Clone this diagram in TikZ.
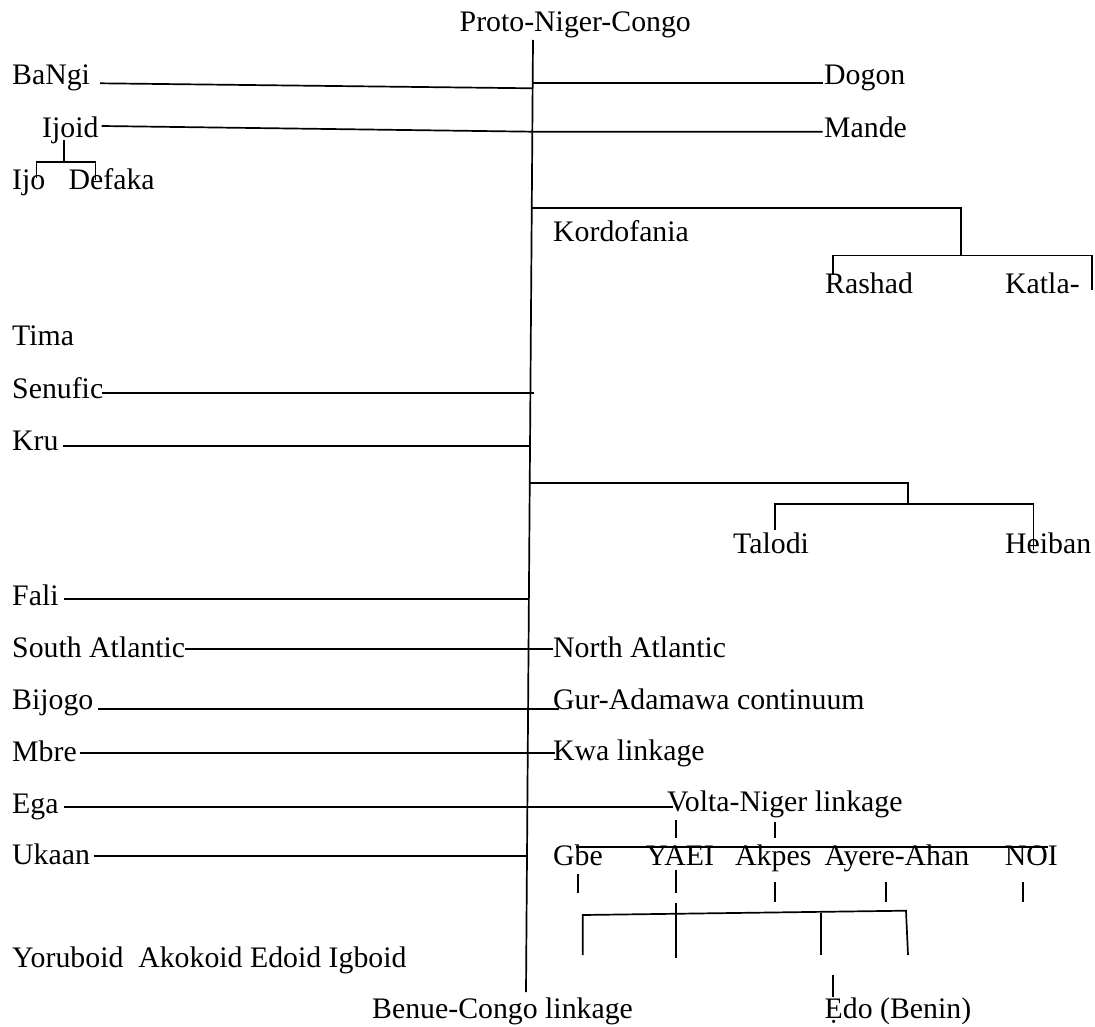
\documentclass[tikz,border=0pt]{standalone}
\usepackage{fontspec}
\setmainfont{Liberation Serif}
\begin{document}
\begin{tikzpicture}[x=1pt, y=-1pt,
  lbl/.style={anchor=base west, inner sep=0pt, font=\fontsize{29.8}{36}\selectfont},
  ln/.style={line width=1.7pt, line cap=butt, line join=miter}]
\useasboundingbox (0,0) rectangle (1095,1027);

% ---------- labels ----------
\node[lbl] (proto)    at (459.5,32)  {Proto-Niger-Congo};
\node[lbl] (bangi)    at (12,85)     {BaNgi};
\node[lbl] (dogon)    at (824,85)    {Dogon};
\node[lbl] (ijoid)    at (42,138)    {Ijoid};
\node[lbl] (mande)    at (824,138)   {Mande};
\node[lbl] (ijo)      at (12,190)    {Ijo};
\node[lbl] (defaka)   at (68.4,190)  {Defaka};
\node[lbl] (kordo)    at (553,242)   {Kordofania};
\node[lbl] (rashad)   at (825,293)   {Rashad};
\node[lbl] (katla)    at (1005,293)  {Katla-};
\node[lbl] (tima)     at (12,345)    {Tima};
\node[lbl] (senufic)  at (12,398)    {Senufic};
\node[lbl] (kru)      at (12,450)    {Kru};
\node[lbl] (talodi)   at (733,553)   {Talodi};
\node[lbl] (heiban)   at (1005,553)  {Heiban};
\node[lbl] (fali)     at (12,605)    {Fali};
\node[lbl] (southatl) at (12,657)    {South Atlantic};
\node[lbl] (northatl) at (553,657)   {North Atlantic};
\node[lbl] (bijogo)   at (12,709)    {Bijogo};
\node[lbl] (gur)      at (553,709)   {Gur-Adamawa continuum};
\node[lbl] (mbre)     at (12,761)    {Mbre};
\node[lbl] (kwa)      at (553,760)   {Kwa linkage};
\node[lbl] (ega)      at (12,813)    {Ega};
\node[lbl] (volta)    at (667,811)   {Volta-Niger linkage};
\node[lbl] (ukaan)    at (12,864)    {Ukaan};
\node[lbl] (gbe)      at (553,865)   {Gbe};
\node[lbl] (yaei)     at (646,865)   {YAEI};
\node[lbl] (akpes)    at (735,865)   {Akpes};
\node[lbl] (ayere)    at (824.5,865) {Ayere-Ahan};
\node[lbl] (noi)      at (1004.7,865){NOI};
\node[lbl] (yoruboid) at (12,967)    {Yoruboid~ Akokoid Edoid Igboid};
\node[lbl] (benue)    at (372,1018)  {Benue-Congo linkage};
\node[lbl] (edo)      at (824.5,1018){Ẹdo (Benin)};

% ---------- trunk ----------
\coordinate (trunkTop) at (533,40);
\coordinate (trunkBot) at (526,992);
\draw[ln] (trunkTop) -- (trunkBot);

% ---------- branch end points ----------
\coordinate (bangiL) at (100,83.3);   \coordinate (bangiR) at (532.4,88.3);
\coordinate (dogonL) at (533,82.7);   \coordinate (dogonR) at (822.6,82.7);
\coordinate (ijoidL) at (101.7,126);  \coordinate (ijoidR) at (532.3,131.7);
\coordinate (mandeR) at (822.6,131.7);
\coordinate (senL) at (102,392.7);    \coordinate (senR) at (534,392.7);
\coordinate (kruL) at (62.5,446);     \coordinate (kruR) at (530.2,446);
\coordinate (faliL) at (63.6,599);    \coordinate (faliR) at (529.4,599);
\coordinate (saL) at (185,649.3);     \coordinate (saR) at (553,649.3);
\coordinate (bijL) at (98,708.7);     \coordinate (bijR) at (558.7,708.7);
\coordinate (mbreL) at (79.6,752.7);  \coordinate (mbreR) at (555,752.7);
\coordinate (egaL) at (63.6,807.3);   \coordinate (egaR) at (672.7,807.3);
\coordinate (ukaL) at (94,856);       \coordinate (ukaR) at (526.5,856);

\draw[ln] (bangiL) -- (bangiR);
\draw[ln] (dogonL) -- (dogonR);
\draw[ln] (ijoidL) -- (ijoidR) -- (mandeR);
\draw[ln] (senL) -- (senR);
\draw[ln] (kruL) -- (kruR);
\draw[ln] (faliL) -- (faliR);
\draw[ln] (saL) -- (saR);
\draw[ln] (bijL) -- (bijR);
\draw[ln] (mbreL) -- (mbreR);
\draw[ln] (egaL) -- (egaR);
\draw[ln] (ukaL) -- (ukaR);

% ---------- Ijoid split ----------
\coordinate (ijStemTop) at (64,140);
\coordinate (ijStemBot) at (64,162);
\coordinate (ijoTop) at (36.5,178);
\coordinate (defTop) at (95.5,180);
\draw[ln] (ijStemTop) -- (ijStemBot);
\draw[ln] (ijoTop) |- (ijStemBot) -| (defTop);

% ---------- Kordofanian ----------
\coordinate (kordJ) at (532.3,208.3);
\coordinate (kordK) at (961,208.3);
\coordinate (kordM) at (961,255.5);
\coordinate (rashTop) at (833,275);
\coordinate (katlaEnd) at (1092,290);
\draw[ln] (kordJ) -- (kordK) -- (kordM);
\draw[ln] (rashTop) |- (kordM) -| (katlaEnd);

\coordinate (talJ) at (529.8,482.7);
\coordinate (talK) at (908.3,482.7);
\coordinate (talM) at (908.3,504);
\coordinate (talTop) at (775,530);
\coordinate (heiEnd) at (1033.5,550);
\draw[ln] (talJ) -- (talK) -- (talM);
\draw[ln] (talTop) |- (talM) -| (heiEnd);

% ---------- Volta-Niger ----------
\draw[ln] (675.7,820) coordinate (vt1a) -- (675.7,838.3) coordinate (vt1b);
\draw[ln] (775,821.7) coordinate (vt2a) -- (775,838.3) coordinate (vt2b);
\coordinate (vnL) at (576,846.7);
\coordinate (vnR) at (1048,846.7);
\draw[ln] (vnL) -- (vnR);

\draw[ln] (577.8,874) coordinate (gbeA) -- (577.8,893) coordinate (gbeB);
\draw[ln] (675.7,870) coordinate (yaA) -- (675.7,893) coordinate (yaB);
\draw[ln] (675.7,903) coordinate (yaC) -- (675.7,958) coordinate (yaD);
\draw[ln] (775,881.7) coordinate (akA) -- (775,901.7) coordinate (akB);
\draw[ln] (886,882) coordinate (ayA) -- (886,902) coordinate (ayB);
\draw[ln] (1023,882) coordinate (noA) -- (1023,902) coordinate (noB);

% ---------- lower bracket ----------
\coordinate (brA) at (582.7,955);
\coordinate (brB) at (582.7,915);
\coordinate (brC) at (906,910.7);
\coordinate (brD) at (908,955);
\draw[ln] (brA) -- (brB) -- (brC) -- (brD);
\draw[ln] (820.7,913) coordinate (edA) -- (820.7,955) coordinate (edB);
\draw[ln] (832.8,975) coordinate (edoA) -- (832.8,996.7) coordinate (edoB);
\end{tikzpicture}
\end{document}
